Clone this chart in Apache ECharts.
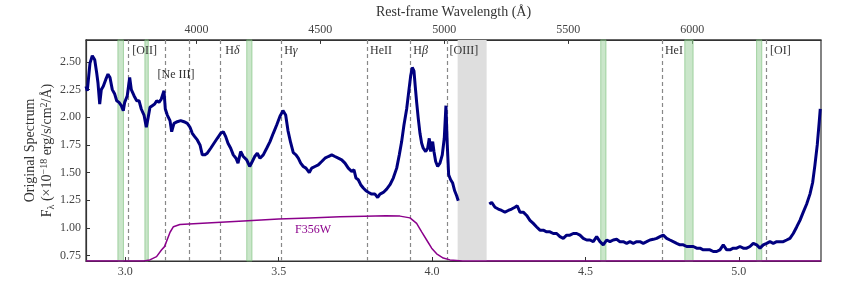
<!DOCTYPE html>
<html><head><meta charset="utf-8">
<script src="https://cdn.jsdelivr.net/npm/echarts@6/dist/echarts.min.js"></script>
<style>html,body{margin:0;padding:0;background:#fff}#c{width:864px;height:307px}</style>
</head><body><div id="c"></div>
<script>
// ---------------- DATA ----------------
const onePlusZ = 8.08;
const xRange = [2.872, 5.268];      // observed wavelength (micron)
const yRange = [0.70, 2.70];
const xTicks = [3.0, 3.5, 4.0, 4.5, 5.0];
const restTicks = [4000, 4500, 5000, 5500, 6000];
const yTicks = [0.75, 1.00, 1.25, 1.50, 1.75, 2.00, 2.25, 2.50];

const specWave = [
2.8720,2.8762,2.8850,2.8925,2.9004,2.9069,2.9111,2.9167,2.9219,2.9284,2.9362,2.9437,2.9502,2.9577,2.9656,2.9721,2.9796,2.9871,2.9936,2.9981,
3.0066,3.0144,3.0197,3.0285,3.0373,3.0448,3.0522,3.0611,3.0686,3.0741,3.0806,3.0881,3.0959,3.1025,3.1100,3.1174,3.1262,3.1305,3.1370,3.1458,
3.1513,3.1588,3.1696,3.1807,3.1914,3.2022,3.2110,3.2185,3.2263,3.2348,3.2436,3.2511,3.2589,3.2674,3.2785,3.2892,3.3000,3.3111,3.3195,3.3274,
3.3349,3.3437,3.3521,3.3609,3.3675,3.3762,3.3847,3.3958,3.4056,3.4141,3.4219,3.4304,3.4392,3.4499,3.4610,3.4718,3.4825,3.4936,3.5044,3.5141,
3.5229,3.5304,3.5392,3.5477,3.5565,3.5640,3.5718,3.5803,3.5891,3.5999,3.6077,3.6184,3.6292,3.6403,3.6510,3.6618,3.6729,3.6836,3.6944,3.7055,
3.7162,3.7270,3.7381,3.7456,3.7521,3.7596,3.7674,3.7759,3.7847,3.7935,3.8033,3.8140,3.8228,3.8303,3.8411,3.8521,3.8629,3.8737,3.8848,3.8933,
3.9010,3.9085,3.9173,3.9238,3.9304,3.9356,3.9411,3.9453,3.9499,3.9551,3.9607,3.9662,3.9714,3.9793,3.9858,3.9910,3.9956,4.0021,4.0063,4.0119,
4.0184,4.0259,4.0334,4.0399,4.0454,4.0497,4.0542,4.0607,4.0673,4.0738,4.0803,4.0855,
4.1300,
4.1866,4.1944,4.2052,4.2159,4.2270,4.2377,4.2485,4.2596,4.2703,4.2778,4.2866,4.2974,4.3085,4.3192,4.3300,4.3411,4.3518,4.3626,4.3737,4.3844,
4.3952,4.4063,4.4170,4.4278,4.4389,4.4496,4.4604,4.4715,4.4822,4.4930,4.5041,4.5148,4.5256,4.5367,4.5474,4.5582,4.5693,4.5800,4.5908,4.6019,
4.6126,4.6234,4.6345,4.6452,4.6560,4.6671,4.6778,4.6886,4.6997,4.7104,4.7212,4.7323,4.7430,4.7538,4.7649,4.7756,4.7864,4.7975,4.8082,4.8190,
4.8301,4.8408,4.8516,4.8627,4.8734,4.8842,4.8953,4.9060,4.9168,4.9279,4.9386,4.9494,4.9605,4.9712,4.9820,4.9931,5.0038,5.0146,5.0257,5.0364,
5.0472,5.0583,5.0690,5.0798,5.0909,5.1016,5.1124,5.1235,5.1342,5.1450,5.1561,5.1668,5.1776,5.1887,5.1994,5.2102,5.2213,5.2320,5.2408,5.2483,
5.2558,5.2623,5.2656
];
const specFlux = [
2.28,2.24,2.49,2.556,2.52,2.40,2.31,2.12,2.25,2.28,2.34,2.39,2.36,2.25,2.21,2.15,2.135,2.105,2.06,2.135,
2.195,2.36,2.25,2.195,2.15,2.15,2.075,2.02,1.91,1.99,2.09,2.105,2.12,2.15,2.135,2.165,2.24,2.075,2.02,1.97,
1.87,1.945,1.96,1.97,1.96,1.945,1.91,1.855,1.825,1.795,1.75,1.66,1.66,1.675,1.72,1.765,1.81,1.855,1.87,1.825,
1.765,1.72,1.66,1.63,1.585,1.69,1.645,1.615,1.555,1.60,1.645,1.675,1.63,1.66,1.72,1.78,1.855,1.93,2.01,2.06,
2.02,1.88,1.77,1.68,1.66,1.63,1.585,1.555,1.54,1.50,1.54,1.555,1.57,1.60,1.63,1.645,1.66,1.645,1.63,1.615,
1.585,1.54,1.51,1.525,1.45,1.435,1.39,1.36,1.335,1.32,1.305,1.305,1.275,1.305,1.32,1.35,1.39,1.45,1.54,1.66,
1.78,1.93,2.075,2.225,2.375,2.45,2.42,2.28,2.135,1.99,1.855,1.765,1.72,1.69,1.72,1.81,1.69,1.78,1.69,1.60,
1.555,1.585,1.66,1.81,2.105,1.75,1.48,1.435,1.405,1.335,1.29,1.245,
null,
1.216,1.23,1.186,1.17,1.157,1.142,1.157,1.17,1.186,1.20,1.142,1.142,1.112,1.068,1.04,1.008,0.979,0.979,0.964,0.964,
0.949,0.949,0.92,0.905,0.934,0.934,0.949,0.949,0.934,0.905,0.89,0.89,0.875,0.92,0.875,0.846,0.89,0.875,0.89,0.896,
0.875,0.875,0.86,0.875,0.86,0.875,0.875,0.86,0.875,0.89,0.896,0.905,0.92,0.934,0.905,0.89,0.875,0.86,0.846,0.846,
0.831,0.831,0.831,0.816,0.816,0.801,0.801,0.801,0.786,0.786,0.801,0.846,0.801,0.801,0.816,0.816,0.831,0.816,0.816,0.831,
0.86,0.846,0.816,0.846,0.86,0.875,0.86,0.875,0.875,0.875,0.89,0.905,0.949,1.008,1.068,1.142,1.216,1.305,1.41,1.57,
1.75,1.96,2.075
];

const filterWave = [2.872,3.060,3.080,3.102,3.118,3.128,3.146,3.157,3.178,3.40,3.50,3.60,3.70,3.78,3.85,3.8955,3.9281,3.9498,3.9662,3.9825,3.9988,4.0151,4.0366,4.0585,4.10,5.268];
const filterFlux = [0.70,0.70,0.71,0.74,0.80,0.83,0.96,1.01,1.03,1.065,1.08,1.09,1.10,1.105,1.11,1.106,1.09,1.04,0.963,0.89,0.816,0.765,0.727,0.71,0.70,0.70];
const filterName = 'F356W';

const lineNames = ['[OII]','[Ne III]','','H{i|δ}','H{i|γ}','HeII','H{i|β}','[OIII]','HeI','[OI]'];
const lineRest  = [3727, 3869, 3968, 4102, 4340, 4686, 4861, 5007, 5876, 6300]; // Angstrom

const greenBands = [[2.976,2.994],[3.064,3.075],[3.396,3.413],[4.550,4.567],[4.824,4.851],[5.058,5.075]];
const grayBand = [4.0835, 4.178];

// ---------------- CHART ----------------
const FONT = 'Liberation Serif';
const TXT = '#333';
const obs = a => a * onePlusZ / 1e4;
const chart = echarts.init(document.getElementById('c'), null, {renderer:'canvas'});

const markAreaData = greenBands.map(b => [{xAxis:b[0], itemStyle:{color:'rgba(150,205,150,0.5)', borderColor:'rgba(120,190,120,0.6)', borderWidth:1}}, {xAxis:b[1]}]);
markAreaData.push([{xAxis:grayBand[0], itemStyle:{color:'#dedede', borderWidth:0}}, {xAxis:grayBand[1]}]);

const labelTop = 2.60;
const lineLabelPoints = [];
lineNames.forEach((n, i) => {
  if (!n) return;
  const isNe = n === '[Ne III]';
  lineLabelPoints.push({
    coord: [obs(lineRest[i]), labelTop],
    label: {formatter: n, offset: isNe ? [-10, 24] : [0, 0]}
  });
});

const tickStyle = {show: true, inside: true, length: 4, lineStyle: {color: '#333'}};
const labelBase = {color: '#444', fontFamily: FONT, fontSize: 12};

const option = {
  animation: false,
  grid: {left: 86, right: 43, top: 36, bottom: 46, show: true, borderColor: '#333', borderWidth: 1.2, backgroundColor: 'transparent'},
  xAxis: [{
    type: 'value', min: xRange[0], max: xRange[1], position: 'bottom',
    axisLine: {show: true, onZero: false, lineStyle: {color: '#333', width: 1.2}},
    axisTick: Object.assign({customValues: xTicks}, tickStyle),
    axisLabel: Object.assign({margin: 5, customValues: xTicks, formatter: v => v.toFixed(1)}, labelBase),
    splitLine: {show: false}
  }, {
    type: 'value', min: xRange[0] * 1e4 / onePlusZ, max: xRange[1] * 1e4 / onePlusZ, position: 'top',
    name: 'Rest-frame Wavelength (Å)', nameLocation: 'middle', nameGap: 20,
    nameTextStyle: {color: TXT, fontFamily: FONT, fontSize: 14},
    axisLine: {show: true, onZero: false, lineStyle: {color: '#333', width: 1.2}},
    axisTick: Object.assign({customValues: restTicks}, tickStyle),
    axisLabel: Object.assign({margin: 4, customValues: restTicks, formatter: v => String(Math.round(v))}, labelBase),
    splitLine: {show: false}
  }],
  yAxis: {
    type: 'value', min: yRange[0], max: yRange[1],
    name: '{n|Original Spectrum}\n{n|F}{sub|λ}{n| (×10}{sup|−18}{n| erg/s/cm}{sup|2}{n|/Å)}',
    nameLocation: 'middle', nameGap: 30, nameRotate: 90, nameMoveOverlap: false,
    nameTextStyle: {color: TXT, fontFamily: FONT, fontSize: 14, lineHeight: 17,
      rich: {
        n: {fontFamily: FONT, fontSize: 14, color: TXT, lineHeight: 17},
        sub: {fontFamily: FONT, fontSize: 10, color: TXT, lineHeight: 9, verticalAlign: 'bottom'},
        sup: {fontFamily: FONT, fontSize: 10, color: TXT, lineHeight: 9, verticalAlign: 'top'}
      }},
    axisLine: {show: true, lineStyle: {color: '#333', width: 1.2}},
    axisTick: Object.assign({customValues: yTicks}, tickStyle),
    axisLabel: Object.assign({margin: 5, customValues: yTicks, formatter: v => v.toFixed(2)}, labelBase),
    splitLine: {show: false}
  },
  series: [
    {
      type: 'line', data: [], xAxisIndex: 0, z: 1, silent: true,
      markArea: {silent: true, z: 1, data: markAreaData}
    },
    {
      type: 'line', data: [], xAxisIndex: 0, z: 2, silent: true,
      markLine: {silent: true, symbol: ['none', 'none'], z: 2,
        lineStyle: {color: '#888', width: 1.2, type: [4, 3]},
        label: {show: false},
        data: lineRest.map(r => ({xAxis: obs(r)}))},
      markPoint: {silent: true, symbol: 'circle', symbolSize: 1, itemStyle: {color: 'rgba(0,0,0,0)'},
        label: {show: true, position: 'right', distance: 3, color: TXT, fontFamily: FONT, fontSize: 12,
          rich: {i: {fontFamily: FONT, fontSize: 12, fontStyle: 'italic', color: TXT}}},
        data: lineLabelPoints}
    },
    {
      type: 'line', xAxisIndex: 0, z: 4, symbol: 'none', silent: true,
      lineStyle: {color: '#8b008b', width: 1.5},
      data: filterWave.map((w, i) => [w, filterFlux[i]]),
      markPoint: {silent: true, symbol: 'circle', symbolSize: 1, itemStyle: {color: 'rgba(0,0,0,0)'},
        label: {show: true, position: 'inside', color: '#8b008b', fontFamily: FONT, fontSize: 12, formatter: filterName},
        data: [{coord: [3.612, 0.985]}]}
    },
    {
      type: 'line', xAxisIndex: 0, z: 5, symbol: 'none', silent: true, connectNulls: false,
      lineStyle: {color: '#00007f', width: 3},
      data: specWave.map((w, i) => [w, specFlux[i]])
    }
  ]
};
chart.setOption(option);
</script></body></html>
